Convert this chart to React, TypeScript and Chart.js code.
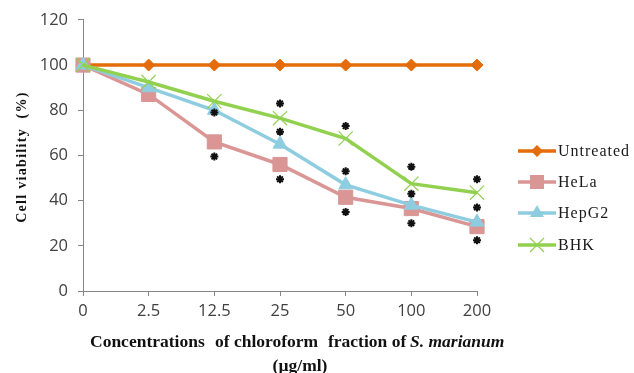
import React, { useEffect, useRef } from "react";
import { Chart, registerables } from "chart.js";

Chart.register(...registerables);

const concentrations = ["0", "2.5", "12.5", "25", "50", "100", "200"];
const untreated = [100, 100, 100, 100, 100, 100, 100];
const hela = [100, 87, 66, 56, 41.5, 36.5, 28.5];
const hepg2 = [100, 90, 80, 65, 47, 38, 30.5];
const bhk = [100, 92.5, 84, 76.5, 67.5, 47.5, 43.5];
const sigTop = [null, null, 79, 83, 73, 55, 49.5];
const sigMid = [null, null, 59.5, 70.5, 53, 43, 37];
const sigLow = [null, null, null, 49.5, 35, 30, 22.5];
const yTicks = [0, 20, 40, 60, 80, 100, 120];

const ORANGE = "#E46C0A";
const PINK = "#D99694";
const BLUE = "#8ECDE0";
const GREEN = "#92D050";

const serif = "'Liberation Serif', 'Times New Roman', serif";
const sans = "'Open Sans', 'Liberation Sans', sans-serif";

const legendItems = [
  { label: "Untreated", color: ORANGE, style: "rectRot" },
  { label: "HeLa", color: PINK, style: "rect" },
  { label: "HepG2", color: BLUE, style: "triangle" },
  { label: "BHK", color: GREEN, style: "crossRot" },
];

function drawMarker(ctx: CanvasRenderingContext2D, style: string, x: number, y: number, color: string) {
  ctx.fillStyle = color;
  ctx.strokeStyle = color;
  ctx.beginPath();
  if (style === "rectRot") {
    ctx.moveTo(x, y - 6);
    ctx.lineTo(x + 6, y);
    ctx.lineTo(x, y + 6);
    ctx.lineTo(x - 6, y);
    ctx.closePath();
    ctx.fill();
  } else if (style === "rect") {
    ctx.rect(x - 7, y - 7, 14, 14);
    ctx.fill();
  } else if (style === "triangle") {
    ctx.moveTo(x, y - 8);
    ctx.lineTo(x + 7, y + 4);
    ctx.lineTo(x - 7, y + 4);
    ctx.closePath();
    ctx.fill();
  } else if (style === "crossRot") {
    ctx.lineWidth = 1.2;
    ctx.moveTo(x - 7, y - 7);
    ctx.lineTo(x + 7, y + 7);
    ctx.moveTo(x + 7, y - 7);
    ctx.lineTo(x - 7, y + 7);
    ctx.stroke();
  }
}

const extrasPlugin = {
  id: "extras",
  afterDraw(chart: any) {
    const ctx = chart.ctx as CanvasRenderingContext2D;
    ctx.save();
    // Legend
    const lx0 = 518;
    const lx1 = 556;
    const ys = [151, 182, 213, 245];
    legendItems.forEach((it, i) => {
      const y = ys[i];
      ctx.strokeStyle = it.color;
      ctx.lineWidth = 3.5;
      ctx.beginPath();
      ctx.moveTo(lx0, y);
      ctx.lineTo(lx1, y);
      ctx.stroke();
      drawMarker(ctx, it.style, (lx0 + lx1) / 2, y, it.color);
      ctx.fillStyle = "#1a1a1a";
      ctx.font = `16px ${serif}`;
      (ctx as any).letterSpacing = "1px";
      ctx.textAlign = "left";
      ctx.textBaseline = "middle";
      ctx.fillText(it.label, lx1 + 2, y + 1);
      (ctx as any).letterSpacing = "0px";
    });
    // Y title
    ctx.save();
    ctx.translate(22, 157);
    ctx.rotate(-Math.PI / 2);
    ctx.font = `bold 14px ${serif}`;
    (ctx as any).letterSpacing = "1.3px";
    ctx.fillStyle = "#111";
    ctx.textAlign = "center";
    ctx.textBaseline = "middle";
    ctx.fillText("Cell viability  (%)", 0, 0);
    ctx.restore();
    (ctx as any).letterSpacing = "0px";
    // X title with italic part
    ctx.fillStyle = "#111";
    ctx.textAlign = "left";
    ctx.textBaseline = "middle";
    const yl = 342;
    ctx.font = `bold 17.5px ${serif}`;
    ctx.fillText("Concentrations", 90, yl);
    ctx.fillText("of chloroform", 215, yl);
    ctx.fillText("fraction of", 328, yl);
    ctx.font = `italic bold 17.5px ${serif}`;
    ctx.fillText("S. marianum", 410, yl);
    ctx.font = `bold 17.5px ${serif}`;
    ctx.textAlign = "center";
    ctx.fillText("(\u00b5g/ml)", 300, 366);
    ctx.restore();
  },
};

export default function App() {
  const ref = useRef<HTMLCanvasElement>(null);
  useEffect(() => {
    if (!ref.current) return;
    const sig = (data: (number | null)[]) => ({
      label: "sig",
      data,
      showLine: false,
      pointStyle: "star",
      pointRadius: 4,
      pointBorderWidth: 2,
      pointBorderColor: "#111",
      pointBackgroundColor: "#111",
      borderColor: "#111",
      order: 0,
    });
    const chart = new Chart(ref.current, {
      type: "line",
      data: {
        labels: concentrations,
        datasets: [
          {
            label: "Untreated",
            data: untreated,
            borderColor: ORANGE,
            backgroundColor: ORANGE,
            borderWidth: 3.5,
            pointStyle: "rectRot",
            pointRadius: 6,
            pointBorderWidth: 1,
            order: 4,
          },
          {
            label: "HeLa",
            data: hela,
            borderColor: PINK,
            backgroundColor: PINK,
            borderWidth: 3.5,
            pointStyle: "rect",
            pointRadius: 10,
            pointBorderWidth: 1,
            order: 3,
          },
          {
            label: "HepG2",
            data: hepg2,
            borderColor: BLUE,
            backgroundColor: BLUE,
            borderWidth: 3.5,
            pointStyle: "triangle",
            pointRadius: 8,
            pointBorderWidth: 1,
            order: 2,
          },
          {
            label: "BHK",
            data: bhk,
            borderColor: GREEN,
            backgroundColor: GREEN,
            borderWidth: 3.5,
            pointStyle: "crossRot",
            pointRadius: 10,
            pointBorderWidth: 1.2,
            order: 1,
          },
          sig(sigTop) as any,
          sig(sigMid) as any,
          sig(sigLow) as any,
        ],
      },
      options: {
        animation: false,
        responsive: true,
        maintainAspectRatio: false,
        layout: { padding: { top: 19, right: 157, bottom: 0, left: 0 } },
        plugins: {
          legend: { display: false },
          tooltip: { enabled: false },
        },
        scales: {
          x: {
            offset: false,
            grid: {
              display: true,
              drawOnChartArea: false,
              drawTicks: true,
              tickLength: 5,
              color: "#868686",
              offset: false,
            },
            border: { display: true, color: "#868686", width: 1 },
            ticks: {
              color: "#404040",
              font: { family: sans, size: 16.5 },
              padding: 5,
              maxRotation: 0,
              autoSkip: false,
            },
            afterFit(scale: any) {
              scale.height = 82;
            },
          },
          y: {
            min: 0,
            max: 120,
            afterBuildTicks(scale: any) {
              scale.ticks = yTicks.map((v) => ({ value: v }));
            },
            grid: {
              display: true,
              drawOnChartArea: false,
              drawTicks: true,
              tickLength: 5,
              color: "#868686",
            },
            border: { display: true, color: "#868686", width: 1 },
            ticks: {
              color: "#404040",
              font: { family: sans, size: 16.5 },
              padding: 10,
            },
            afterFit(scale: any) {
              scale.width = 83;
            },
          },
        },
      },
      plugins: [extrasPlugin],
    });
    return () => chart.destroy();
  }, []);
  return (
    <div style={{ position: "fixed", left: 0, top: 0, width: 634, height: 373, background: "#fff" }}>
      <canvas ref={ref} />
    </div>
  );
}
